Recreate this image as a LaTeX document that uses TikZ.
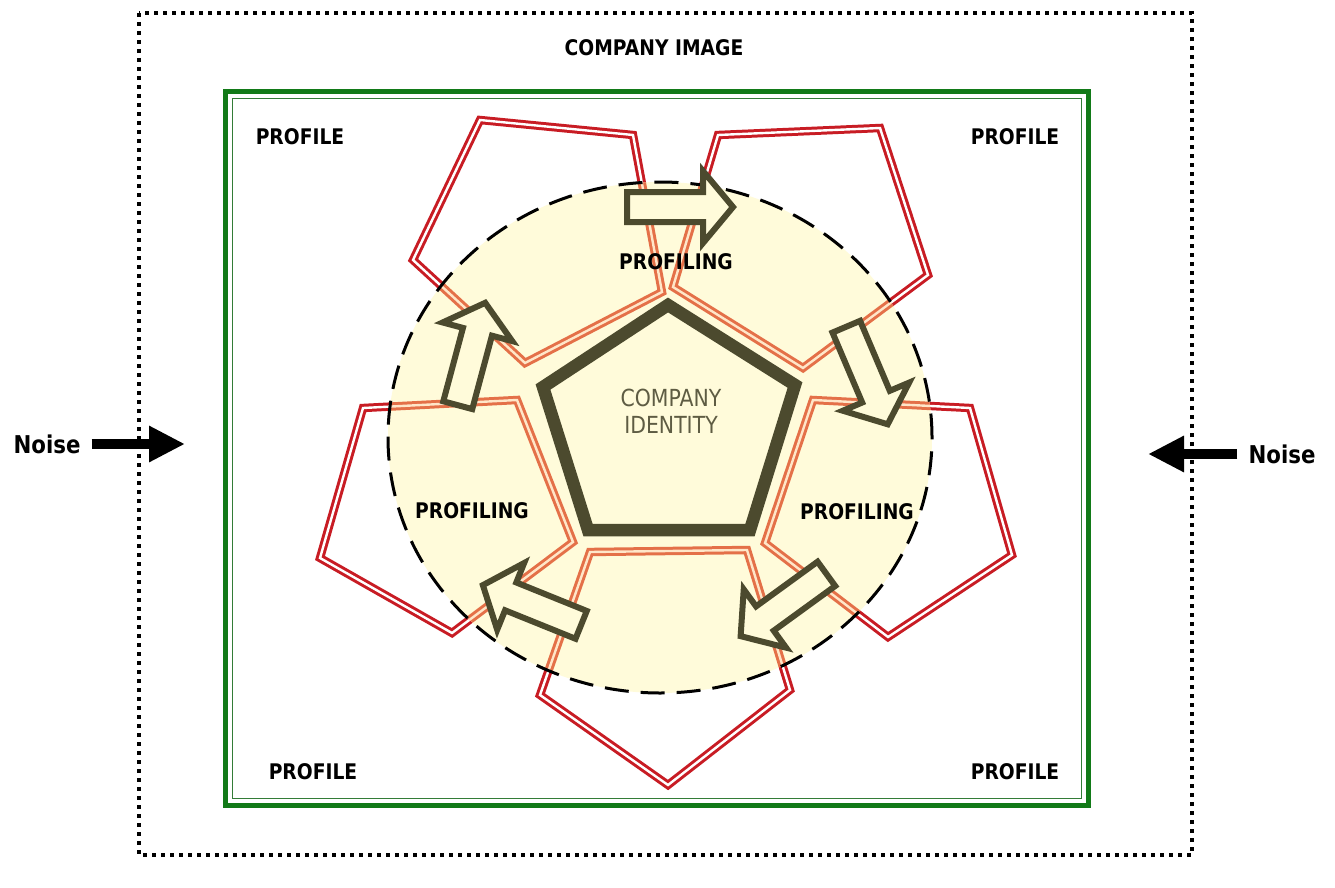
\documentclass[tikz,border=0pt]{standalone}
\usepackage{fontspec}
\setmainfont{DejaVu Sans}[FakeStretch=0.87]
\usetikzlibrary{arrows.meta}

\definecolor{ballred}{RGB}{200,28,36}
\definecolor{ballorange}{RGB}{228,112,72}
\definecolor{ballcream}{RGB}{255,230,200}
\definecolor{paleyellow}{RGB}{255,251,218}
\definecolor{idolive}{RGB}{76,74,46}
\definecolor{imagegreen}{RGB}{18,122,24}

% corner points of the five profile patches
\newcommand{\patchlist}{480/120/633/135/662/292/525/363/413/260,
  718/135/880/128/928/275/803/368/673/287,
  813/400/970/408/1012/555/888/637/765/543,
  590/552/747/550/790/690/668/785/540/695,
  363/408/517/400/573/542/452/633/320/558}

\begin{document}
\begin{tikzpicture}[x=1pt, y=-1pt,
  lbl/.style={font=\fontsize{21.5}{26}\selectfont\bfseries, inner sep=0pt},
  noise/.style={font=\fontsize{24.5}{28}\selectfont\bfseries, inner sep=0pt},
  noiseArrow/.style={line width=10pt, -{Triangle[length=36pt, width=34pt]}, shorten <=11pt},
  frame/.style={line width=4pt, dash pattern=on 4pt off 5pt},
  imageFrame/.style={draw=imagegreen, line width=5pt},
  patch/.style={draw=ballred, double=white, line width=3pt, double distance=2.4pt, line join=miter},
  patchIn/.style={draw=ballorange, double=ballcream, line width=3pt, double distance=2.4pt, line join=miter},
  flow/.style={draw=idolive, fill=paleyellow, line width=6pt, line join=miter},
  core/.style={draw=idolive, fill=paleyellow, line width=12.5pt, line join=miter}]
\useasboundingbox (0,0) rectangle (1335,888);
\fill[white] (0,0) rectangle (1335,888);
% company image
\draw[frame] (139,13) rectangle (1192,855);
\node[lbl] (image) at (654,48) {COMPANY IMAGE};
\draw[imageFrame] (225.5,91.5) rectangle (1088.5,805);
\draw[imagegreen!70!gray, line width=1.5pt] (232.5,98.5) rectangle (1081.5,798.5);
\foreach \x/\y [count=\i] in {300/137, 1015/137, 313/772, 1015/772}
  \node[lbl] (profile\i) at (\x,\y) {PROFILE};
% noise
\node[noise] (noiseL) at (47,444) {Noise};
\coordinate (noiseLtip) at (185,444);
\draw[noiseArrow] (noiseL) -- (noiseLtip);
\node[noise] (noiseR) at (1282,454) {Noise};
\coordinate (noiseRtip) at (1148,454);
\draw[noiseArrow] (noiseR) -- (noiseRtip);
% profile patches, paler inside the circle
\foreach \xa/\ya/\xb/\yb/\xc/\yc/\xd/\yd/\xe/\ye in \patchlist
  \draw[patch] (\xa,\ya) -- (\xb,\yb) -- (\xc,\yc) -- (\xd,\yd) -- (\xe,\ye) -- cycle;
\fill[paleyellow] (660,437.5) ellipse [x radius=272pt, y radius=255.5pt];
\begin{scope}
  \clip (660,437.5) ellipse [x radius=272pt, y radius=255.5pt];
  \foreach \xa/\ya/\xb/\yb/\xc/\yc/\xd/\yd/\xe/\ye in \patchlist
    \draw[patchIn] (\xa,\ya) -- (\xb,\yb) -- (\xc,\yc) -- (\xd,\yd) -- (\xe,\ye) -- cycle;
\end{scope}
\draw[line width=3pt, dash pattern=on 24pt off 12pt] (660,437.5) ellipse [x radius=272pt, y radius=255.5pt];
% company identity
\draw[core] (668,305) -- (795,385) -- (750,530) -- (588,530) -- (543,387) -- cycle;
\node[font=\fontsize{23.5}{27}\selectfont, text=idolive!90, align=center] (identity) at (671,411) {COMPANY\\IDENTITY};
% profiling arrows, clockwise
\foreach \cx/\cy/\rot in {680/207/0, 867/375.5/-67, 783.5/605/-144, 532/605/-202, 471.5/354/75}
  \draw[flow, shift={(\cx,\cy)}, rotate=\rot] (-53,-15) -- (23,-15) -- (23,-36) -- (53,0) -- (23,36) -- (23,15) -- (-53,15) -- cycle;
\node[lbl] (profilingT) at (676,262) {PROFILING};
\node[lbl] (profilingL) at (472,511) {PROFILING};
\node[lbl] (profilingR) at (857,512) {PROFILING};
\end{tikzpicture}
\end{document}
